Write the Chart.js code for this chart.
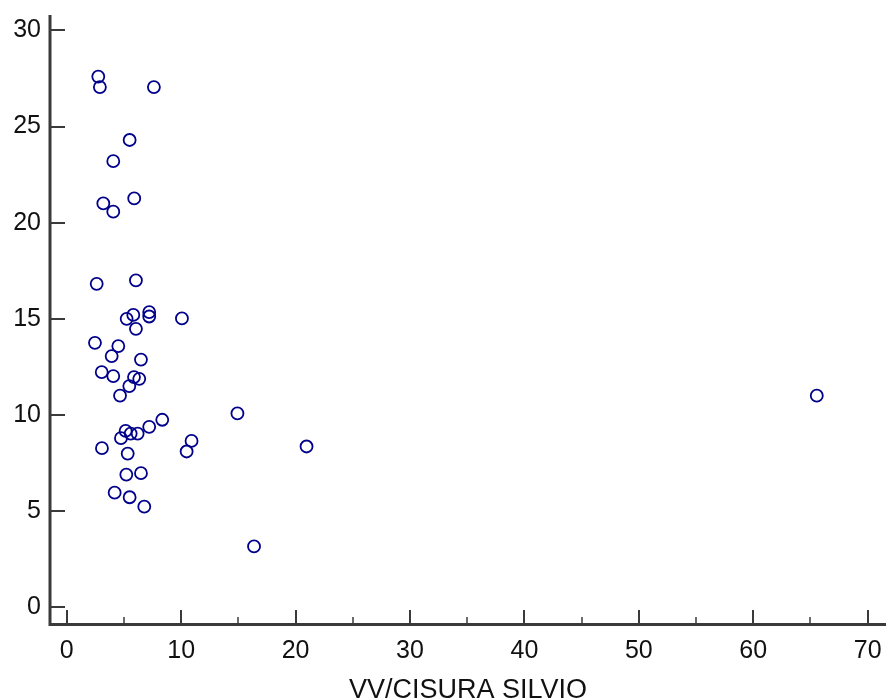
<!DOCTYPE html>
<html>
<head>
<meta charset="utf-8">
<script src="https://cdn.jsdelivr.net/npm/chart.js@4/dist/chart.umd.min.js"></script>
<style>
  html, body { margin: 0; padding: 0; background: #fff; }
  #wrap { width: 887px; height: 700px; position: relative; }
</style>
</head>
<body>
<div id="wrap"><canvas id="myChart"></canvas></div>
<script>
// values
var xVals = [2.76, 2.9, 7.62, 5.5, 4.07, 3.2, 4.07, 5.9, 2.62, 6.05,
             5.24, 5.82, 7.21, 7.21, 10.07, 6.05, 2.47, 4.51, 3.93, 6.49,
             3.06, 4.07, 5.88, 6.34, 5.47, 4.66, 14.92, 8.35, 7.21, 5.15,
             5.59, 6.2, 4.74, 3.08, 5.33, 10.91, 10.48, 20.96, 5.21, 6.49,
             4.19, 5.5, 6.78, 16.37, 65.55];
var yVals = [27.6, 27.05, 27.05, 24.3, 23.2, 21.0, 20.57, 21.26, 16.82, 17.0,
             15.0, 15.2, 15.35, 15.12, 15.02, 14.48, 13.75, 13.58, 13.06, 12.88,
             12.23, 12.02, 11.97, 11.88, 11.5, 11.01, 10.08, 9.75, 9.38, 9.17,
             9.03, 9.03, 8.79, 8.27, 7.99, 8.65, 8.1, 8.36, 6.9, 6.97,
             5.96, 5.72, 5.23, 3.16, 11.0];
var xTicks = [0, 10, 20, 30, 40, 50, 60, 70];
var xMinorTicks = [5, 15, 25, 35, 45, 55, 65];
var yTicks = [0, 5, 10, 15, 20, 25, 30];
var xTitle = "VV/CISURA SILVIO";

var pts = [];
for (var i = 0; i < xVals.length; i++) {
    pts.push({x: xVals[i], y: yVals[i]});
}

// axis lines and inward tick marks
var axisPlugin = {
    id: "axisMarks",
    afterDraw: function(chart) {
        var c = chart.ctx;
        var xs = chart.scales.x;
        var ys = chart.scales.y;
        var area = chart.chartArea;
        c.save();
        c.strokeStyle = "#3a3a3a";
        c.lineCap = "butt";
        // y ticks
        c.lineWidth = 2;
        yTicks.forEach(function(v) {
            var p = Math.round(ys.getPixelForValue(v));
            c.beginPath();
            c.moveTo(area.left, p);
            c.lineTo(area.left + 15, p);
            c.stroke();
        });
        // x ticks
        xTicks.forEach(function(v) {
            var p = Math.round(xs.getPixelForValue(v));
            c.beginPath();
            c.moveTo(p, area.bottom);
            c.lineTo(p, area.bottom - 13);
            c.stroke();
        });
        c.lineWidth = 1.5;
        xMinorTicks.forEach(function(v) {
            var p = Math.round(xs.getPixelForValue(v));
            c.beginPath();
            c.moveTo(p, area.bottom);
            c.lineTo(p, area.bottom - 6);
            c.stroke();
        });
        // axis lines
        c.lineWidth = 3;
        c.beginPath();
        c.moveTo(area.left, area.top);
        c.lineTo(area.left, area.bottom + 1.5);
        c.lineTo(area.right, area.bottom + 1.5);
        c.stroke();
        c.restore();
    }
};

var ctx = document.getElementById("myChart").getContext("2d");
var myChart = new Chart(ctx, {
    type: "scatter",
    data: {
        datasets: [{
            data: pts,
            pointRadius: 6,
            pointHoverRadius: 6,
            pointBorderWidth: 1.8,
            pointBorderColor: "#00008b",
            pointBackgroundColor: "rgba(255,255,255,0)"
        }]
    },
    options: {
        responsive: true,
        maintainAspectRatio: false,
        animation: false,
        events: [],
        layout: { autoPadding: false, padding: { top: 15, right: 1, left: 0, bottom: 0 } },
        plugins: {
            legend: { display: false },
            tooltip: { enabled: false }
        },
        scales: {
            x: {
                type: "linear",
                min: -1.46,
                max: 71.6,
                afterBuildTicks: function(s) {
                    s.ticks = xTicks.map(function(v) { return {value: v}; });
                },
                afterFit: function(s) {
                    s.height = 77;
                    s.paddingLeft = 0;
                    s.paddingRight = 0;
                },
                grid: { display: false, drawTicks: false },
                border: { display: false },
                ticks: {
                    color: "#111",
                    padding: 13,
                    maxRotation: 0,
                    font: { family: "'Liberation Sans', Arial, sans-serif", size: 25 }
                },
                title: {
                    display: true,
                    text: xTitle,
                    color: "#111",
                    padding: 0,
                    font: { family: "'Liberation Sans', Arial, sans-serif", size: 27, lineHeight: 0.7 }
                }
            },
            y: {
                type: "linear",
                min: -0.82,
                max: 30.8,
                afterBuildTicks: function(s) {
                    s.ticks = yTicks.map(function(v) { return {value: v}; });
                },
                afterFit: function(s) {
                    s.width = 50;
                    s.paddingTop = 0;
                    s.paddingBottom = 0;
                },
                grid: { display: false, drawTicks: false },
                border: { display: false },
                ticks: {
                    color: "#111",
                    padding: 9,
                    font: { family: "'Liberation Sans', Arial, sans-serif", size: 25 }
                }
            }
        }
    },
    plugins: [axisPlugin]
});
</script>
</body>
</html>
